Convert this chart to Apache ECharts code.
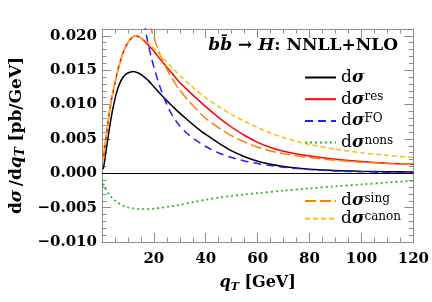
<!DOCTYPE html>
<html>
<head>
<meta charset="utf-8">
<script src="https://cdn.jsdelivr.net/npm/echarts@6/dist/echarts.min.js"></script>
<style>html,body{margin:0;padding:0;background:#fff}#c{width:432px;height:302px}</style>
</head>
<body>
<div id="c"></div>
<script>
// q_T values (GeV)
const qFull = [0.5,1,2,3,4,5,6,7,8,9,10,11,12,13,14,15,16,17,18,20,22,24,26,28,30,33,36,40,45,50,55,60,65,70,75,80,90,100,110,120];
// d sigma / d q_T (pb/GeV)
const sigTot = [0.0006,0.0017,0.0043,0.0068,0.0090,0.0108,0.0122,0.0132,0.0139,0.01435,0.0146,0.01475,0.0148,0.01475,0.0146,0.0144,0.0141,0.0138,0.01345,0.0126,0.01175,0.01095,0.0102,0.00945,0.00875,0.00775,0.0068,0.00565,0.0044,0.00325,0.0024,0.00175,0.0013,0.00098,0.00076,0.0006,0.0004,0.0003,0.00024,0.00019];
const sigRes = [0.0018,0.0035,0.0064,0.0092,0.0113,0.0131,0.0148,0.0162,0.0174,0.0183,0.0190,0.0195,0.0199,0.0200,0.0199,0.0197,0.0194,0.0190,0.0186,0.0178,0.0168,0.0159,0.0150,0.0141,0.0132,0.0121,0.01105,0.0097,0.0081,0.0067,0.0055,0.0045,0.00375,0.0032,0.0028,0.0025,0.00205,0.0017,0.00145,0.0013];
const sigCanon = [0.0018,0.0035,0.0064,0.0092,0.0113,0.0131,0.0148,0.0162,0.0174,0.0183,0.0190,0.0195,0.0199,0.0200,0.0199,0.0197,0.0195,0.0192,0.0189,0.0182,0.0174,0.0166,0.0158,0.0150,0.01425,0.0132,0.0122,0.0110,0.0097,0.00855,0.00755,0.00665,0.00585,0.0052,0.00465,0.0042,0.0035,0.0030,0.0026,0.0023];
const qSing = [17,18,19,20,21,22,23,24,26,28,30,33,36,40,45,50,55,60,65,70,75,80,90,100,110,120];
const sigSing = [0.0240,0.0224,0.0210,0.0198,0.0187,0.0177,0.01675,0.0159,0.01445,0.0132,0.0121,0.0107,0.0095,0.0080,0.0066,0.00545,0.00455,0.0038,0.00325,0.00285,0.00255,0.0023,0.0019,0.00162,0.00143,0.0013];
const qFO = [15,16,17,18,19,20,21,22,23,24,25,26,27,28,30,33,36,40,45,50,55,60,65,70,75,80,90,100,110,120];
const sigFO = [0.0258,0.0228,0.0204,0.0185,0.0169,0.0155,0.0142,0.0130,0.0119,0.0109,0.0100,0.0092,0.0085,0.0079,0.0069,0.00575,0.00485,0.0039,0.00295,0.0023,0.0018,0.00142,0.00112,0.00088,0.00069,0.00054,0.00034,0.00022,0.00014,0.0001];
const qNons = [0.5,1,2,3,4,5,6,7,8,10,12,14,16,18,20,23,26,30,35,40,45,50,55,60,70,80,90,100,110,120];
const sigNons = [-0.0015,-0.0020,-0.0027,-0.0032,-0.0036,-0.00395,-0.00425,-0.0045,-0.0047,-0.00495,-0.0051,-0.0052,-0.00522,-0.0052,-0.00515,-0.0050,-0.00485,-0.0046,-0.0042,-0.00385,-0.00355,-0.0033,-0.00308,-0.00288,-0.00252,-0.0022,-0.0019,-0.00162,-0.00135,-0.00108];
// tick labels
const xTickLabels = ['20','40','60','80','100','120'];
const yTickLabels = ['\u22120.010','\u22120.005','0.000','0.005','0.010','0.015','0.020'];

const pair = (xs, ys) => xs.map((x, i) => [x, ys[i]]);
const FF = 'DejaVu Serif';
const GRAY = '#8c8c8c';

const chart = echarts.init(document.getElementById('c'), null, {renderer: 'canvas'});

function mkSeries(name, xs, ys, color, type, width) {
  return {
    name: name, type: 'line', xAxisIndex: 0, yAxisIndex: 0,
    data: pair(xs, ys), symbol: 'none', showSymbol: false,
    smooth: 0.3, clip: true,
    lineStyle: {color: color, width: width || 1.5, type: type},
    itemStyle: {color: color}, z: 3
  };
}

const s0 = mkSeries('sigma', qFull, sigTot, '#000000', 'solid');
s0.markLine = {
  silent: true, symbol: ['none', 'none'], label: {show: false},
  lineStyle: {color: '#000', width: 1, type: 'solid'},
  data: [{yAxis: 0}], animation: false
};

const legendRich = {
  d: {fontFamily: FF, fontSize: 17, lineHeight: 16, color: '#000'},
  s: {fontFamily: FF, fontSize: 17, fontWeight: 'bold', fontStyle: 'italic', lineHeight: 16, color: '#000'},
  sup: {fontFamily: FF, fontSize: 12, lineHeight: 8, verticalAlign: 'top', color: '#000'}
};
const legendFmt = n => n === 'sigma' ? '{d|d}{s|σ}' : '{d|d}{s|σ}{sup|' + n + '}';

const yMajor = (pos, labels) => ({
  type: 'value', position: pos, min: -0.01, max: 0.021, interval: 0.005,
  axisLine: {show: true, lineStyle: {color: GRAY, width: 1}},
  axisTick: {show: true, inside: true, length: 9, lineStyle: {color: GRAY, width: 1}},
  splitLine: {show: false},
  axisLabel: labels ? {
    show: true, margin: 5, fontFamily: FF, fontWeight: 'bold', fontSize: 15, color: '#000',
    showMaxLabel: false,
    formatter: v => { const k = Math.round((v + 0.01) / 0.005); return (Math.abs(v - (-0.01 + k * 0.005)) < 1e-9 && k < yTickLabels.length) ? yTickLabels[k] : ''; }
  } : {show: false}
});
const yMinor = (pos) => ({
  type: 'value', position: pos, min: -0.01, max: 0.021, interval: 0.001,
  axisLine: {show: false},
  axisTick: {show: true, inside: true, length: 4.5, lineStyle: {color: GRAY, width: 1}},
  splitLine: {show: false}, axisLabel: {show: false}
});

const legendBase = {
  orient: 'vertical', left: 304, padding: 0, itemWidth: 31, itemHeight: 10,
  selectedMode: false, formatter: legendFmt, textStyle: {rich: legendRich},
  itemStyle: {opacity: 0}
};

const option = {
  animation: false,
  backgroundColor: '#fff',
  grid: {left: 95, top: 29, width: 319, height: 213, containLabel: false},
  title: {
    text: '{bi|b}{bi|b\u0304}{b| \u2192 }{bi|H}{b|: NNLL+NLO}',
    right: 34, top: 36, padding: 0,
    textStyle: {
      rich: {
        b: {fontFamily: FF, fontSize: 17, fontWeight: 'bold', color: '#000', lineHeight: 20},
        bi: {fontFamily: FF, fontSize: 17, fontWeight: 'bold', fontStyle: 'italic', color: '#000', lineHeight: 20}
      }
    }
  },
  legend: [
    Object.assign({}, legendBase, {data: ['sigma', 'res', 'FO', 'nons'], top: 69, itemGap: 4.7}),
    Object.assign({}, legendBase, {data: ['sing', 'canon'], top: 192.5, itemGap: 0.7})
  ],
  xAxis: [
    {
      type: 'value', position: 'bottom', min: 0, max: 120, interval: 20,
      axisLine: {show: true, onZero: false, lineStyle: {color: GRAY, width: 1}},
      axisTick: {show: true, inside: true, length: 9, lineStyle: {color: GRAY, width: 1}},
      minorTick: {show: true, splitNumber: 4, length: 4.5, lineStyle: {color: GRAY, width: 1}},
      splitLine: {show: false},
      axisLabel: {
        show: true, margin: 10, fontFamily: FF, fontWeight: 'bold', fontSize: 15, color: '#000',
        showMinLabel: false,
        formatter: v => { const k = Math.round(v / 20) - 1; return (k >= 0 && k < xTickLabels.length) ? xTickLabels[k] : ''; }
      },
      name: '{bi|q}{sub|T}{b| [GeV]}', nameLocation: 'middle', nameGap: 31,
      nameTextStyle: {
        rich: {
          b: {fontFamily: FF, fontSize: 16, fontWeight: 'bold', color: '#000', lineHeight: 20},
          bi: {fontFamily: FF, fontSize: 16, fontWeight: 'bold', fontStyle: 'italic', color: '#000', lineHeight: 20},
          sub: {fontFamily: FF, fontSize: 11, fontWeight: 'bold', fontStyle: 'italic', color: '#000', lineHeight: 12, verticalAlign: 'bottom'}
        }
      }
    },
    {
      type: 'value', position: 'top', min: 0, max: 120, interval: 20,
      axisLine: {show: true, onZero: false, lineStyle: {color: GRAY, width: 1}},
      axisTick: {show: true, inside: true, length: 9, lineStyle: {color: GRAY, width: 1}},
      minorTick: {show: true, splitNumber: 4, length: 4.5, lineStyle: {color: GRAY, width: 1}},
      splitLine: {show: false}, axisLabel: {show: false}
    }
  ],
  yAxis: [
    Object.assign(yMajor('left', true), {
      name: '{b|d}{bi|σ}{b|\u2009/d}{bi|q}{sub|T}{b| [pb/GeV]}', nameLocation: 'middle', nameGap: 72, nameRotate: 90,
      nameTextStyle: {
        rich: {
          b: {fontFamily: FF, fontSize: 17, fontWeight: 'bold', color: '#000', lineHeight: 20},
          bi: {fontFamily: FF, fontSize: 17, fontWeight: 'bold', fontStyle: 'italic', color: '#000', lineHeight: 20},
          sub: {fontFamily: FF, fontSize: 12, fontWeight: 'bold', fontStyle: 'italic', color: '#000', lineHeight: 12, verticalAlign: 'bottom'}
        }
      }
    }),
    yMinor('left'),
    yMajor('right', false),
    yMinor('right')
  ],
  series: [
    s0,
    mkSeries('res', qFull, sigRes, '#ff0000', 'solid'),
    mkSeries('FO', qFO, sigFO, '#1f1fff', [8, 5]),
    mkSeries('nons', qNons, sigNons, '#2db52d', [2, 3], 1.8),
    mkSeries('sing', qSing, sigSing, '#ff8000', [11, 4]),
    mkSeries('canon', qFull, sigCanon, '#ffbf00', [5, 3])
  ]
};
chart.setOption(option);
</script>
</body>
</html>
